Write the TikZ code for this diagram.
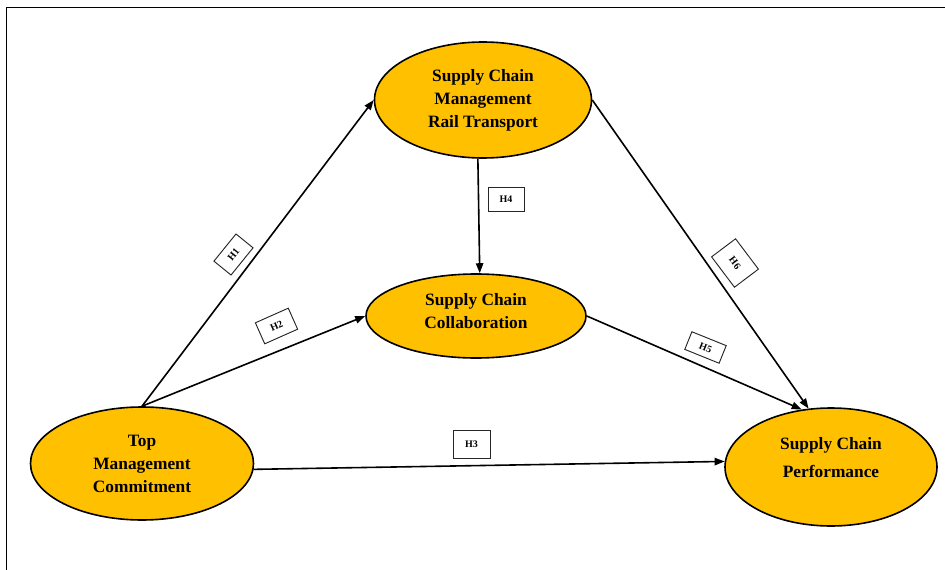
\documentclass[tikz,border=0pt]{standalone}
\usepackage{fontspec}
\setmainfont{Liberation Serif}
\usetikzlibrary{shapes.geometric,arrows.meta}
\definecolor{gold}{HTML}{FFC000}
\tikzset{
  construct/.style={ellipse, draw=black, line width=1.2pt, fill=gold, inner sep=0pt},
  caption/.style={align=center, font=\fontsize{13}{17.25}\selectfont\bfseries, inner sep=0pt},
  path/.style={line width=1.2pt, -{Triangle[length=7.5pt,width=5.5pt]}},
  hyp/.style={draw=black!85, line width=0.7pt, fill=white, inner sep=0pt,
    font=\fontsize{7.5}{8}\selectfont\bfseries}
}
\begin{document}
\begin{tikzpicture}[x=0.75pt,y=-0.75pt]
\useasboundingbox (0,0) rectangle (945,570);
% page frame (left and top edges)
\draw[line width=1.1pt] (6.5,570) -- (6.5,7.5) -- (945,7.5);

% constructs
\node[construct, minimum width=217*0.75pt, minimum height=116*0.75pt] (scm) at (483,100) {};
\node[caption] (scm-t) at (483,100) {Supply Chain\\Management\\Rail Transport};
\node[construct, minimum width=220*0.75pt, minimum height=84*0.75pt] (scc) at (476,316) {};
\node[caption] (scc-t) at (476,311) {Supply Chain\\Collaboration};
\node[construct, minimum width=223*0.75pt, minimum height=113*0.75pt] (tmc) at (142,463.5) {};
\node[caption] (tmc-t) at (142,463.5) {Top\\Management\\Commitment};
\node[construct, minimum width=212*0.75pt, minimum height=118*0.75pt] (scp) at (831,467) {};
\node[caption, font=\fontsize{13}{21}\selectfont\bfseries] (scp-t) at (831,458) {Supply Chain\\Performance};

% hypothesised paths
\draw[path] (tmc.north) -- (scm.west);
\draw[path] (tmc.north) -- (scc.west);
\draw[path] (tmc.-3) -- (scp.177);
\draw[path] (scm.265) -- (scc.85);
\draw[path] (scc.east) -- (scp.117);
\draw[path] (scm.east) -- (scp.111);

% hypothesis labels
\node[hyp, minimum width=35*0.75pt, minimum height=22*0.75pt, rotate=51] (h1) at (233.5,254.5) {H1};
\node[hyp, minimum width=36*0.75pt, minimum height=23*0.75pt, rotate=24] (h2) at (276.5,326) {H2};
\node[hyp, minimum width=37*0.75pt, minimum height=28*0.75pt] (h3) at (471.5,444) {H3};
\node[hyp, minimum width=36*0.75pt, minimum height=24*0.75pt] (h4) at (506,199) {H4};
\node[hyp, minimum width=37*0.75pt, minimum height=19*0.75pt, rotate=-22] (h5) at (705.5,347.5) {H5};
\node[hyp, minimum width=38*0.75pt, minimum height=30*0.75pt, rotate=-53] (h6) at (735,263) {H6};
\end{tikzpicture}
\end{document}
